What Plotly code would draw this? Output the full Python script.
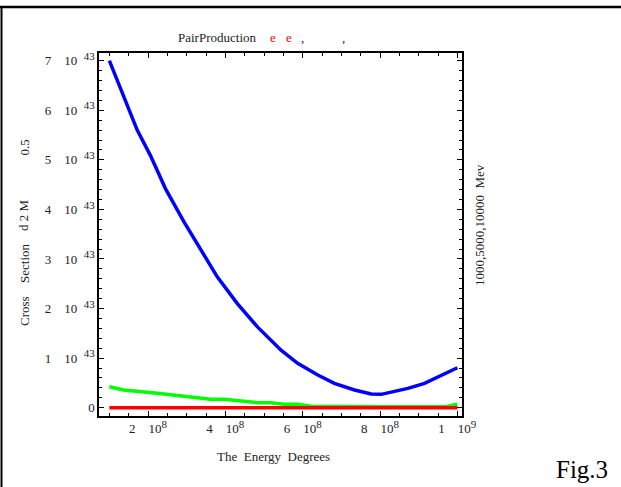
import plotly.graph_objects as go

# ---- data (x in units of 1e8, y in units of 1e43) ----
blue_x = [1.0, 1.37, 1.72, 2.06, 2.45, 2.93, 3.36, 3.79, 4.31, 4.83, 5.44, 5.87,
          6.39, 6.82, 7.34, 7.77, 8.03, 8.29, 8.72, 9.15, 9.59, 10.0]
blue_y = [7.0, 6.27, 5.6, 5.09, 4.42, 3.75, 3.18, 2.64, 2.10, 1.63, 1.16, 0.895,
          0.66, 0.49, 0.357, 0.276, 0.27, 0.31, 0.39, 0.49, 0.66, 0.806]
green_x = [1.0, 1.37, 2.24, 3.1, 3.62, 3.97, 4.83, 5.18, 5.52, 5.87, 6.21, 8.0, 9.7, 10.0]
green_y = [0.423, 0.357, 0.29, 0.21, 0.17, 0.17, 0.10, 0.10, 0.07, 0.07, 0.03, 0.02, 0.02, 0.07]
red_x = [1.0, 2.0, 3.0, 4.0, 5.0, 6.0, 7.0, 8.0, 9.0, 10.0]
red_y = [0.0, 0.0, 0.0, 0.0, 0.0, 0.0, 0.0, 0.0, 0.0, 0.0]

x_tick_vals = [2, 4, 6, 8, 10]
x_tick_mant = ["2", "4", "6", "8", "1"]
x_tick_exp = ["8", "8", "8", "8", "9"]
y_tick_vals = [0, 1, 2, 3, 4, 5, 6, 7]
y_tick_exp = "43"

NB = "\u00a0"
SUP = "<sup><span style='font-size:11px'>{}</span></sup>"
x_ticktext = [m + NB * 4 + "10" + SUP.format(e) for m, e in zip(x_tick_mant, x_tick_exp)]
y_ticktext = ["0"] + [f"{v}" + NB * 4 + "10" + NB * 2 + SUP.format(y_tick_exp)
                      for v in y_tick_vals[1:]]

W, H = 621, 487
L, R, T, B = 99, 462, 53, 416
PW, PH = R - L, B - T


def px(xp):
    return (xp - L) / PW


def py(yp):
    return (B - yp) / PH


FONT = "Liberation Serif"

fig = go.Figure()
fig.add_trace(go.Scatter(x=blue_x, y=blue_y, mode="lines",
                         line=dict(color="#0000ff", width=3.5), showlegend=False))
fig.add_trace(go.Scatter(x=green_x, y=green_y, mode="lines",
                         line=dict(color="#00ff00", width=3.5), showlegend=False))
fig.add_trace(go.Scatter(x=red_x, y=red_y, mode="lines",
                         line=dict(color="#ff0000", width=3.5), showlegend=False))

axis_common = dict(showgrid=False, zeroline=False, showline=True, linecolor="black",
                   linewidth=1.5, mirror="allticks", ticks="inside", ticklen=5,
                   tickcolor="black", tickwidth=1,
                   tickfont=dict(family=FONT, size=13, color="#222"))

fig.update_xaxes(range=[0.732, 10.12], tickmode="array", tickvals=x_tick_vals,
                 ticktext=x_ticktext,
                 minor=dict(tickmode="linear", tick0=0, dtick=0.5, ticks="inside",
                            ticklen=3, tickcolor="black"),
                 **axis_common)
fig.update_yaxes(range=[-0.167, 7.155], tickmode="array", tickvals=y_tick_vals,
                 ticktext=y_ticktext,
                 minor=dict(tickmode="linear", tick0=0, dtick=0.2, ticks="inside",
                            ticklen=3, tickcolor="black"),
                 **axis_common)

ann = []


def add_text(text, xp, yp, size=13, color="#222", angle=0, xanchor="center", yanchor="middle"):
    ann.append(dict(text=text, x=px(xp), y=py(yp), xref="paper", yref="paper",
                    showarrow=False, textangle=angle, xanchor=xanchor, yanchor=yanchor,
                    font=dict(family=FONT, size=size, color=color)))


# title pieces
add_text("PairProduction", 176, 37, xanchor="left")
add_text("e", 273, 37, color="#ff0000")
add_text("e", 289, 37, color="#ff0000")
add_text(",", 302, 38)
add_text(",", 343, 38)

# y axis title pieces
add_text("Cross", 24, 311, angle=-90)
add_text("Section", 24, 264, angle=-90)
add_text("d 2 M", 24, 215, angle=-90)
add_text("0.5", 24, 147.5, angle=-90)

# x axis title
add_text("The" + NB * 2 + "Energy" + NB * 2 + "Degrees", 273, 457)

# right label
add_text("1000,5000,10000" + NB * 2 + "Mev", 479, 225, angle=-90)

# Fig.3
add_text("Fig.3", 582, 469, size=25, color="black")

shapes = [
    dict(type="line", xref="paper", yref="paper", x0=px(0), x1=px(621), y0=py(7), y1=py(7),
         line=dict(color="black", width=2.5)),
    dict(type="line", xref="paper", yref="paper", x0=px(1.5), x1=px(1.5), y0=py(7), y1=py(487),
         line=dict(color="black", width=2)),
]

fig.update_layout(width=W, height=H, margin=dict(l=L, r=W - R, t=T, b=H - B, pad=0),
                  paper_bgcolor="white", plot_bgcolor="white",
                  annotations=ann, shapes=shapes, showlegend=False)

fig.write_html("out.html", config={"displayModeBar": False},
               post_script="document.body.style.margin='0';document.body.style.padding='0';")
